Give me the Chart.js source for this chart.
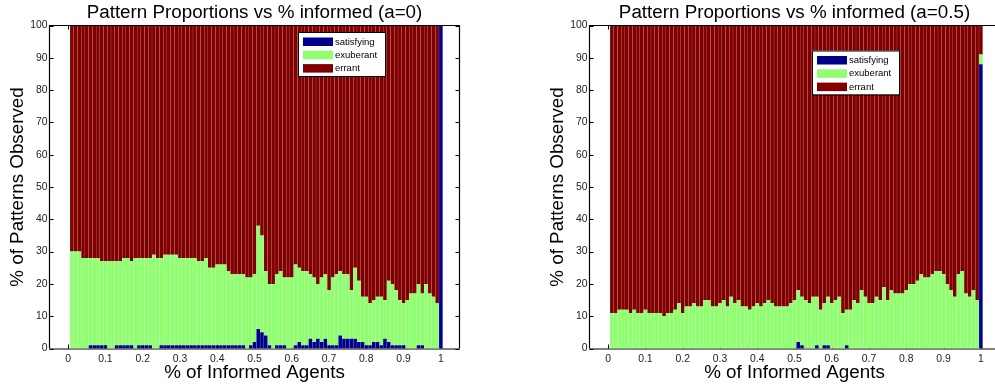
<!DOCTYPE html>
<html>
<head>
<meta charset="utf-8">
<script src="https://cdn.jsdelivr.net/npm/chart.js@4.4.1/dist/chart.umd.min.js"></script>
<style>
  html, body { margin: 0; padding: 0; background: #fff; overflow: hidden; }
  #wrap { position: relative; width: 995px; height: 387px; overflow: hidden; }
  canvas { position: absolute; top: 0; }
  #chart_a0 { left: 0; }
  #chart_a05 { left: 540px; }
</style>
</head>
<body>
<div id="wrap">
  <canvas id="chart_a0" width="497" height="387"></canvas>
  <canvas id="chart_a05" width="497" height="387"></canvas>
</div>
<script>
// fraction of informed agents, one bar per 0.01 step
const informed = Array.from({length: 100}, (_, i) => (i + 1) / 100);
const xTickValues = [0, 0.1, 0.2, 0.3, 0.4, 0.5, 0.6, 0.7, 0.8, 0.9, 1];
const xTickLabels = ['0', '0.1', '0.2', '0.3', '0.4', '0.5', '0.6', '0.7', '0.8', '0.9', '1'];
const seriesNames = ['satisfying', 'exuberant', 'errant'];
const seriesColors = ['rgb(0,0,143)', 'rgb(143,255,112)', 'rgb(128,0,0)'];

// a = 0
const satisfying_a0 = [
  0,0,0,0,0,1,1,1,1,1,
  0,0,1,1,1,1,1,0,1,1,
  1,1,0,0,1,1,1,1,1,1,
  1,1,1,1,1,1,1,1,1,1,
  1,1,1,1,1,1,1,0,1,2,
  6,5,4,1,0,1,1,1,0,0,
  1,2,1,1,3,2,3,2,3,1,
  1,1,4,3,3,3,3,2,2,1,
  1,2,2,1,3,2,1,1,1,1,
  0,0,0,1,1,0,0,0,0,100
];
const exuberant_a0 = [
  30,30,30,28,28,27,27,27,26,26,
  27,27,26,26,27,27,26,28,27,27,
  27,27,29,28,27,28,28,28,28,27,
  27,27,27,27,26,26,27,24,24,25,
  25,25,23,22,22,22,22,22,21,21,
  32,30,20,19,20,22,23,21,22,22,
  25,23,23,23,20,20,17,20,20,17,
  21,22,20,20,20,15,22,19,14,15,
  13,13,14,15,12,19,19,17,14,13,
  15,17,17,19,16,20,17,16,14,0
];
const errant_a0 = [
  70,70,70,72,72,72,72,72,73,73,
  73,73,73,73,72,72,73,72,72,72,
  72,72,71,72,72,71,71,71,71,72,
  72,72,72,72,73,73,72,75,75,74,
  74,74,76,77,77,77,77,78,78,77,
  62,65,76,80,80,77,76,78,78,78,
  74,75,76,76,77,78,80,78,77,82,
  78,77,76,77,77,82,75,79,84,84,
  86,85,84,84,85,79,80,82,85,86,
  85,83,83,80,83,80,83,84,86,0
];

// a = 0.5
const satisfying_a05 = [
  0,0,0,0,0,0,0,0,0,0,
  0,0,0,0,0,0,0,0,0,0,
  0,0,0,0,0,0,0,0,0,0,
  0,0,0,0,0,0,0,0,0,0,
  0,0,0,0,0,0,0,0,0,0,
  2,1,0,0,0,1,0,1,1,0,
  0,0,0,1,0,0,0,0,0,0,
  0,0,0,0,0,0,0,0,0,0,
  0,0,0,0,0,0,0,0,0,0,
  0,0,0,0,0,0,0,0,0,88
];
const exuberant_a05 = [
  11,11,12,12,12,11,12,11,11,12,
  11,11,11,11,10,11,11,12,14,11,
  13,13,14,13,13,15,15,13,13,14,
  15,13,16,14,15,13,13,12,13,14,
  13,14,15,14,13,13,13,13,14,15,
  16,15,15,14,16,15,12,13,15,14,
  15,16,11,11,12,15,14,18,16,14,
  14,16,15,19,15,18,17,17,17,18,
  20,20,21,23,22,22,23,24,24,23,
  20,18,16,23,24,17,16,18,15,3
];
const errant_a05 = [
  89,89,88,88,88,89,88,89,89,88,
  89,89,89,89,90,89,89,88,86,89,
  87,87,86,87,87,85,85,87,87,86,
  85,87,84,86,85,87,87,88,87,86,
  87,86,85,86,87,87,87,87,86,85,
  82,84,85,86,84,84,88,86,84,86,
  85,84,89,88,88,85,86,82,84,86,
  86,84,85,81,85,82,83,83,83,82,
  80,80,79,77,78,78,77,76,76,77,
  80,82,84,77,76,83,84,82,85,9
];

const FONT = 'Liberation Sans, Arial, Helvetica, sans-serif';

// matlab style box, inside ticks, title and legend
const matlabAxes = {
  id: 'matlabAxes',
  beforeDatasetsDraw(chart) {
    const {ctx, chartArea: a, scales: {x, y}} = chart;
    ctx.save();
    ctx.strokeStyle = '#000';
    ctx.lineWidth = 1;
    ctx.beginPath();
    x.ticks.forEach(t => {
      const px = Math.round(x.getPixelForValue(t.value)) + 0.5;
      ctx.moveTo(px, a.bottom); ctx.lineTo(px, a.bottom - 4);
      ctx.moveTo(px, a.top); ctx.lineTo(px, a.top + 4);
    });
    y.ticks.forEach(t => {
      const py = Math.round(y.getPixelForValue(t.value)) + 0.5;
      ctx.moveTo(a.left, py); ctx.lineTo(a.left + 4, py);
      ctx.moveTo(a.right, py); ctx.lineTo(a.right - 4, py);
    });
    ctx.moveTo(a.left, a.bottom + 0.5); ctx.lineTo(a.right, a.bottom + 0.5);
    ctx.stroke();
    ctx.restore();
  },
  afterDatasetsDraw(chart, args, opts) {
    const {ctx, chartArea: a} = chart;
    ctx.save();
    ctx.strokeStyle = '#000';
    ctx.lineWidth = 1.2;
    ctx.beginPath();
    ctx.moveTo(a.left, a.bottom); ctx.lineTo(a.left, a.top);
    ctx.lineTo(a.right, a.top); ctx.lineTo(a.right, a.bottom);
    ctx.stroke();

    // title
    ctx.fillStyle = '#000';
    ctx.font = '18.8px ' + FONT;
    ctx.textAlign = 'center';
    ctx.textBaseline = 'alphabetic';
    ctx.fillText(opts.title, (a.left + a.right) / 2, a.top - 8);

    // legend
    const lx = opts.legendX, ly = opts.legendY, lw = 87, lh = 44;
    ctx.fillStyle = '#fff';
    ctx.fillRect(lx, ly, lw, lh);
    ctx.lineWidth = 1;
    ctx.strokeRect(lx + 0.5, ly + 0.5, lw, lh);
    ctx.font = '9.5px ' + FONT;
    ctx.textAlign = 'left';
    ctx.textBaseline = 'middle';
    chart.data.datasets.forEach((ds, i) => {
      const cy = ly + 9.5 + i * 13.3;
      ctx.fillStyle = ds.backgroundColor;
      ctx.fillRect(lx + 5, cy - 4, 30, 8.5);
      ctx.fillStyle = '#000';
      ctx.fillText(ds.label, lx + 37, cy + 0.5);
    });
    ctx.restore();
  }
};

function makeChart(canvasId, sat, exub, err, titleText, legendPos) {
  const values = [sat, exub, err];
  const ctx = document.getElementById(canvasId).getContext('2d');
  return new Chart(ctx, {
    type: 'bar',
    data: {
      datasets: seriesNames.map((name, s) => ({
        label: name,
        data: informed.map((x, i) => ({x: x, y: values[s][i]})),
        backgroundColor: seriesColors[s],
        borderWidth: 0,
        barPercentage: 0.96,
        categoryPercentage: 1
      }))
    },
    options: {
      responsive: false,
      animation: false,
      devicePixelRatio: 1,
      layout: {padding: {top: 25.5, right: 37.5, bottom: 0, left: 0}},
      plugins: {
        legend: {display: false},
        title: {display: false},
        tooltip: {enabled: false},
        matlabAxes: {title: titleText, legendX: legendPos[0], legendY: legendPos[1]}
      },
      scales: {
        x: {
          type: 'linear',
          stacked: true,
          offset: false,
          min: -0.05,
          max: 1.05,
          grid: {display: false, drawTicks: false, offset: false},
          border: {display: false},
          afterBuildTicks: scale => { scale.ticks = xTickValues.map(v => ({value: v})); },
          afterFit: scale => { scale.height = 38.5; },
          ticks: {
            callback: (v, i) => xTickLabels[i],
            autoSkip: false,
            maxRotation: 0,
            padding: 4,
            color: '#222',
            font: {family: FONT, size: 10.4}
          },
          title: {
            display: true,
            text: '% of Informed Agents',
            color: '#000',
            font: {family: FONT, size: 18.8, lineHeight: 1},
            padding: {top: 0, bottom: 4.5}
          }
        },
        y: {
          stacked: true,
          min: 0,
          max: 100,
          grid: {display: false, drawTicks: false},
          border: {display: false},
          afterFit: scale => { scale.width = 49.5; },
          ticks: {
            stepSize: 10,
            padding: 2,
            color: '#222',
            font: {family: FONT, size: 10.4}
          },
          title: {
            display: true,
            text: '% of Patterns Observed',
            color: '#000',
            font: {family: FONT, size: 18.8, lineHeight: 1},
            padding: {top: 8, bottom: 0}
          }
        }
      }
    },
    plugins: [matlabAxes]
  });
}

makeChart('chart_a0', satisfying_a0, exuberant_a0, errant_a0,
  'Pattern Proportions vs % informed (a=0)', [298, 32]);
makeChart('chart_a05', satisfying_a05, exuberant_a05, errant_a05,
  'Pattern Proportions vs % informed (a=0.5)', [272, 50.5]);
</script>
</body>
</html>
